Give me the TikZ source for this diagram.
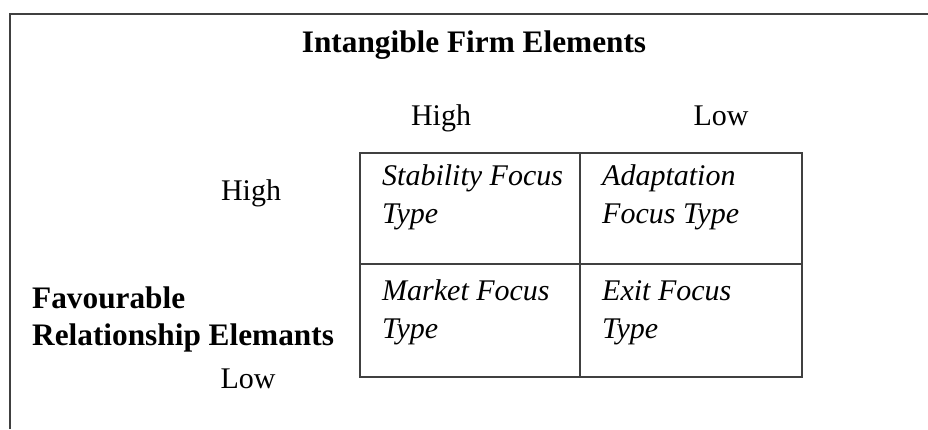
\documentclass[tikz,border=0pt]{standalone}
\usepackage{fontspec}
\setmainfont{Liberation Serif}
\tikzset{
  axislabel/.style={font=\fontsize{30}{36}\selectfont, inner sep=0pt, anchor=base},
  headlabel/.style={font=\fontsize{31.3}{38}\selectfont\bfseries, inner sep=0pt},
  celltext/.style={font=\fontsize{30}{38}\selectfont\itshape, inner sep=0pt, align=left, anchor=base west},
  frameline/.style={line width=2pt, draw=black!75}
}
\begin{document}
\begin{tikzpicture}[x=1pt,y=-1pt]
        \useasboundingbox (0,0) rectangle (928,429);
        \draw[frameline] (10,429) -- (10,14) -- (928,14);
        \node[headlabel, anchor=base] (title) at (474,52) {Intangible Firm Elements};
        \node[axislabel] (colhigh) at (441,125) {High};
        \node[axislabel] (collow) at (721,125) {Low};
        \node[axislabel] (rowhigh) at (251,200) {High};
        \node[headlabel, anchor=base west] (fav) at (32,308) {Favourable};
        \node[headlabel, anchor=base west] (rel) at (32,345) {Relationship Elemants};
        \node[axislabel] (rowlow) at (248,388) {Low};
        % the 2x2 grid
        \draw[frameline] (360,153) rectangle (802,377);
        \draw[frameline] (580,153) -- (580,377);
        \draw[frameline] (360,264) -- (802,264);
        % base of a two-line node is the baseline of its last line
        \node[celltext] (stab) at (382,223) {Stability Focus\\Type};
        \node[celltext] (adapt) at (602,223) {Adaptation\\Focus Type};
        \node[celltext] (market) at (382,338) {Market Focus\\Type};
        \node[celltext] (exitf) at (602,338) {Exit Focus\\Type};
    \end{tikzpicture}
\end{document}
